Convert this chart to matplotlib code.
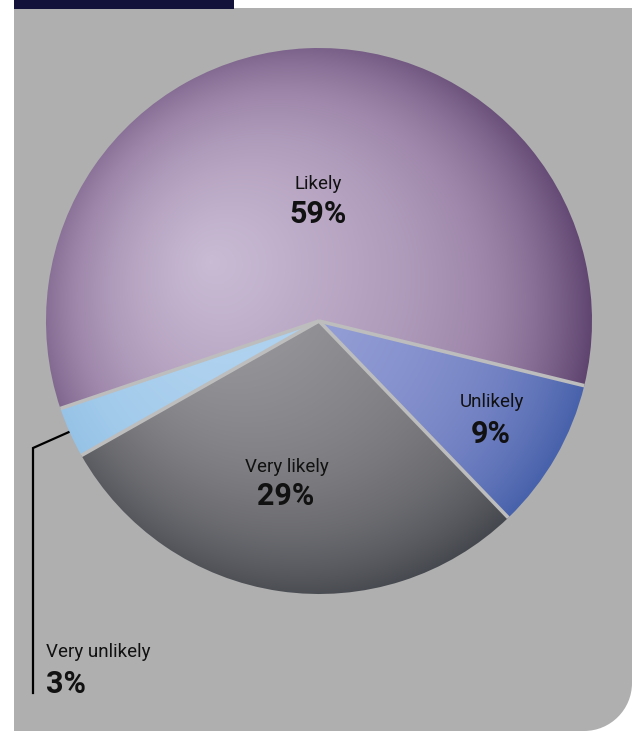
import numpy as np
import matplotlib
matplotlib.use("Agg")
import matplotlib.pyplot as plt
from matplotlib.colors import LinearSegmentedColormap
from matplotlib.patches import PathPatch, Rectangle
from matplotlib.path import Path
from matplotlib.lines import Line2D

# ---- data ----
categories = ["Unlikely", "Very likely", "Very unlikely", "Likely"]
values = [9, 29, 3, 59]
pct_labels = ["9%", "29%", "3%", "59%"]

# ---- style ----
W, H = 632, 731
plt.rcParams['font.family'] = ['Roboto', 'DejaVu Sans']
fig = plt.figure(figsize=(W / 100, H / 100), dpi=100)
fig.patch.set_facecolor('white')

bg = fig.add_axes([0, 0, 1, 1])
bg.set_xlim(0, W)
bg.set_ylim(H, 0)
bg.axis('off')

# gray panel with rounded bottom-right corner
x0, y0, x1, y1, rc = 14, 8, W, H, 48
k = 0.5523 * rc
verts = [(x0, y0), (x1, y0), (x1, y1 - rc),
         (x1, y1 - rc + k), (x1 - rc + k, y1), (x1 - rc, y1),
         (x0, y1), (x0, y0)]
codes = [Path.MOVETO, Path.LINETO, Path.LINETO,
         Path.CURVE4, Path.CURVE4, Path.CURVE4,
         Path.LINETO, Path.CLOSEPOLY]
bg.add_patch(PathPatch(Path(verts, codes), facecolor='#afafaf', edgecolor='none'))
# navy header bar
bg.add_patch(Rectangle((14, 0), 220, 9, facecolor='#12123a', edgecolor='none'))

# leader line for the small slice
bg.add_line(Line2D([69, 33, 33], [432, 448, 693], color='black', lw=1.6,
                   solid_joinstyle='miter'))

# ---- pie ----
cx, cy, R = 319, 321, 273
L = 1.02
pax = fig.add_axes([(cx - R * L) / W, (H - cy - R * L) / H, 2 * R * L / W, 2 * R * L / H])
start = -13.7
wedges, _ = pax.pie(values, startangle=start, counterclock=False, radius=1,
                    wedgeprops=dict(edgecolor='none', linewidth=0))
pax.set_xlim(-L, L)
pax.set_ylim(-L, L)
pax.axis('off')

grad_colors = {
    "Likely": ['#cbbdd6', '#9c84a8', '#5e446f'],
    "Unlikely": ['#a6aee0', '#7886c6', '#4862ab'],
    "Very likely": ['#a3a2a7', '#737377', '#45484e'],
    "Very unlikely": ['#b4d5f1', '#a0c9ea', '#8cbce2'],
}

n = 600
xs = np.linspace(-L, L, n)
X, Y = np.meshgrid(xs, xs[::-1])
hx, hy = (210 - cx) / R, -(262 - cy) / R
dh = np.hypot(X - hx, Y - hy) * R / 390.0
rr = np.hypot(X, Y)
T = np.clip(0.6 * dh + 0.4 * rr ** 4, 0, 1)

for w, cat in zip(wedges, categories):
    cmap = LinearSegmentedColormap.from_list(cat, grad_colors[cat])
    im = pax.imshow(T, cmap=cmap, vmin=0, vmax=1, extent=(-L, L, -L, L),
                    origin='upper', interpolation='bilinear', zorder=1)
    im.set_clip_path(w)
    w.set_facecolor('none')

# separators between slices
bounds = start - 360 * np.cumsum(values) / np.sum(values)
for a in bounds:
    t = np.deg2rad(a)
    pax.plot([0, np.cos(t)], [0, np.sin(t)], color='#bdbdbd', lw=2.6,
             solid_capstyle='butt', zorder=3)

# ---- labels (pixel positions) ----
def ftext(x, y, s, **kw):
    fig.text(x / W, 1 - y / H, s, **kw)

label_pos = {
    "Likely": (318, 184, 318, 214, 'center'),
    "Unlikely": (492, 402, 491, 434, 'center'),
    "Very likely": (287, 467, 286, 496, 'center'),
    "Very unlikely": (46, 652, 46, 684, 'left'),
}
for cat, p in zip(categories, pct_labels):
    lx, ly, px, py, ha = label_pos[cat]
    ftext(lx, ly, cat, fontsize=13.5, color='#111111', ha=ha, va='center')
    ftext(px, py, p, fontsize=22, fontweight='bold', color='#111111', ha=ha, va='center')

fig.savefig('out.png', dpi=100, facecolor='white')
